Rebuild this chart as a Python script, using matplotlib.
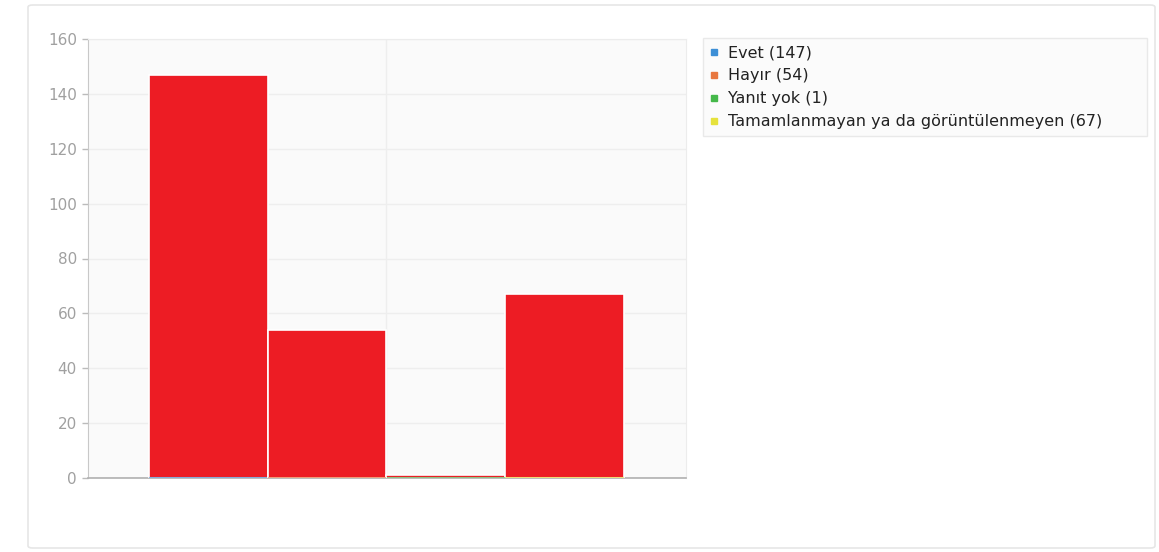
import matplotlib
matplotlib.use("Agg")
import matplotlib.pyplot as plt
from matplotlib.patches import FancyBboxPatch
from matplotlib.lines import Line2D

categories = ["Evet", "Hayır", "Yanıt yok", "Tamamlanmayan ya da görüntülenmeyen"]
values = [147, 54, 1, 67]
series_colors = ["#3d8fd6", "#e8773f", "#45b84a", "#e6e23c"]
bar_color = "#ED1C24"
yticks = [0, 20, 40, 60, 80, 100, 120, 140, 160]

fig = plt.figure(figsize=(11.59, 5.52), dpi=100)
fig.patch.set_facecolor("white")

# outer panel
panel = FancyBboxPatch((28/1159, 1-548/552), (1155-28)/1159, (548-5)/552,
                       boxstyle="round,pad=0,rounding_size=0.004",
                       transform=fig.transFigure, facecolor="none",
                       edgecolor="#e6e6e6", linewidth=1.2, zorder=-5)
fig.patches.append(panel)

ax = fig.add_axes([88/1159, 1-478/552, (686-88)/1159, (478-39)/552])
ax.set_facecolor("#fafafa")

for i, (v, c) in enumerate(zip(values, series_colors)):
    ax.bar(i, v, width=1.0, align="edge", color=bar_color,
           edgecolor="white", linewidth=1.2, zorder=3)
    ax.plot([i + 0.01, i + 0.99], [0, 0], color=c, lw=1.5, alpha=0.6, zorder=4)

ax.set_xlim(-0.51, 4.52)
ax.set_ylim(0, 160)
ax.set_yticks(yticks)
ax.set_yticklabels([str(t) for t in yticks], color="#a0a0a0", fontsize=11)
ax.set_xticks([2])
ax.set_xticklabels([])
ax.tick_params(axis="x", length=0)
ax.tick_params(axis="y", length=4, color="#bbbbbb", width=1, pad=4)
ax.grid(True, color="#eeeeee", linewidth=1, zorder=0)
for s in ["top", "right"]:
    ax.spines[s].set_color("#ececec")
ax.spines["left"].set_color("#c8c8c8")
ax.spines["bottom"].set_color("#b0b0b0")
ax.spines["bottom"].set_linewidth(1.2)

handles = [Line2D([0], [0], marker="s", linestyle="none", markersize=4,
                  markerfacecolor=c, markeredgecolor=c) for c in series_colors]
labels = [f"{c} ({v})" for c, v in zip(categories, values)]
leg = fig.legend(handles, labels, loc="upper left",
                 bbox_to_anchor=(703/1159, 1-138/552, 444/1159, 100/552),
                 mode="expand", fontsize=11.5,
                 frameon=True, handlelength=0.5, handletextpad=0.6,
                 labelspacing=0.5, borderpad=0.45, borderaxespad=0,
                 fancybox=False)
leg.get_frame().set_edgecolor("#e4e4e4")
leg.get_frame().set_facecolor("#fafafa")
for t in leg.get_texts():
    t.set_color("#222222")

fig.savefig("out.png", dpi=100, facecolor="white")
